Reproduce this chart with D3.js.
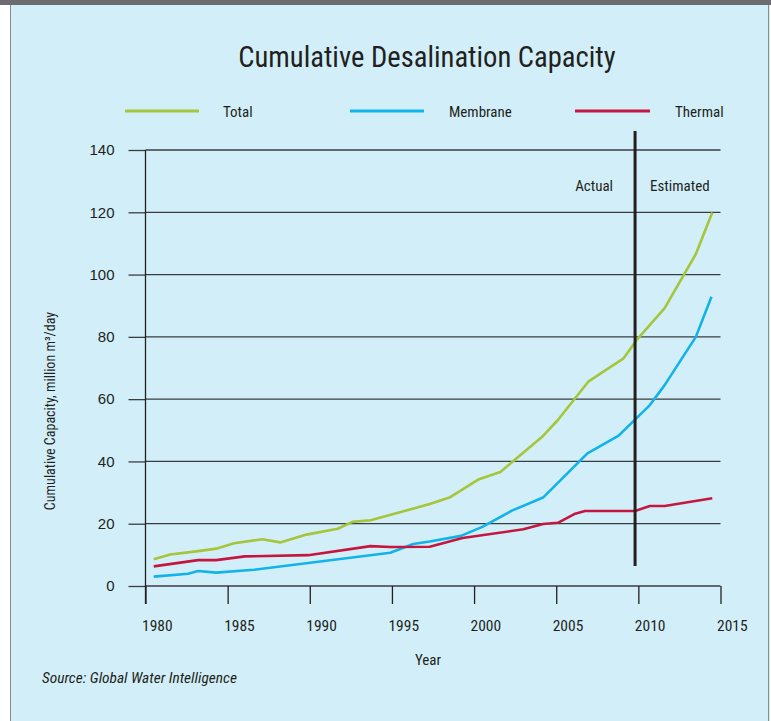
<!DOCTYPE html>
<html>
<head>
<meta charset="utf-8">
<script src="https://cdn.jsdelivr.net/npm/d3@7"></script>
<style>
  html, body { margin: 0; padding: 0; background: #ffffff; }
  svg { display: block; }
  text { font-family: "Liberation Sans Narrow", "Arial Narrow", "Roboto Condensed", "Liberation Sans", sans-serif; fill: #231f20; }
</style>
</head>
<body>
<svg id="chart" width="771" height="721"></svg>
<script>
// Cumulative desalination capacity, million m³/day
const totalYears = [1980.5, 1981.5, 1983.2, 1984.3, 1985.4, 1987.1, 1988.2, 1989.8, 1991.7, 1992.6, 1993.7,
  1997.3, 1998.5, 2000.3, 2001.6, 2004.2, 2005.1, 2006.95, 2009.1, 2009.9, 2011.6, 2013.5, 2014.5];
const totalValues = [8.6, 10.1, 11.2, 12.0, 13.7, 15.0, 14.0, 16.5, 18.4, 20.6, 21.1,
  26.3, 28.4, 34.3, 36.6, 48.2, 53.3, 65.6, 73.1, 79.0, 89.2, 106.6, 119.9];

const membraneYears = [1980.5, 1982.6, 1983.2, 1984.3, 1986.6, 1994.9, 1996.3, 1997.3, 1999.2, 2000.5,
  2002.3, 2004.2, 2006.9, 2008.8, 2010.7, 2011.6, 2013.5, 2014.45];
const membraneValues = [3.0, 3.95, 4.8, 4.3, 5.2, 10.7, 13.5, 14.3, 16.1, 19.0,
  24.2, 28.4, 42.6, 48.3, 58.1, 64.5, 80.0, 92.9];

const thermalYears = [1980.5, 1983.2, 1984.3, 1986.05, 1989.9, 1993.7, 1994.9, 1997.3, 1999.3, 2003.0,
  2004.2, 2005.1, 2006.1, 2006.75, 2009.8, 2010.7, 2011.6, 2014.5];
const thermalValues = [6.3, 8.3, 8.3, 9.5, 9.9, 12.8, 12.5, 12.6, 15.4, 18.2,
  19.9, 20.3, 23.1, 24.1, 24.1, 25.7, 25.7, 28.2];

const yTicks = [0, 20, 40, 60, 80, 100, 120, 140];
const xTicks = [1980, 1985, 1990, 1995, 2000, 2005, 2010, 2015];
const estimateStart = 2009.8;

const seriesNames = ["Total", "Membrane", "Thermal"];
const seriesColors = ["#a5c53a", "#12b2ea", "#c3173f"];

const series = [
  { name: seriesNames[0], color: seriesColors[0], pts: d3.zip(totalYears, totalValues) },
  { name: seriesNames[1], color: seriesColors[1], pts: d3.zip(membraneYears, membraneValues) },
  { name: seriesNames[2], color: seriesColors[2], pts: d3.zip(thermalYears, thermalValues) }
];

const svg = d3.select("#chart");

// panel background and frame
svg.append("rect").attr("x", 0).attr("y", 0).attr("width", 771).attr("height", 721).attr("fill", "#ffffff");
svg.append("rect").attr("x", 10).attr("y", 0).attr("width", 760).attr("height", 721).attr("fill", "#d2eff9");
svg.append("line").attr("x1", 10.5).attr("x2", 10.5).attr("y1", 0).attr("y2", 721).attr("stroke", "#8a8a8f").attr("stroke-width", 1);
svg.append("line").attr("x1", 768.5).attr("x2", 768.5).attr("y1", 0).attr("y2", 721).attr("stroke", "#8a8a8f").attr("stroke-width", 1);
svg.append("rect").attr("x", 0).attr("y", 0).attr("width", 771).attr("height", 5).attr("fill", "#6b6b70");

const x = d3.scaleLinear().domain([1980, 2015]).range([145.5, 720.5]);
const y = d3.scaleLinear().domain([0, 140]).range([586, 150]);

// title
svg.append("text").attr("x", 427).attr("y", 67).attr("text-anchor", "middle")
  .style("font-size", "28.6px").text("Cumulative Desalination Capacity");

// legend
const legendX = [[125, 199, 223], [350, 424, 449], [575, 650, 675]];
series.forEach((s, i) => {
  svg.append("line").attr("x1", legendX[i][0]).attr("x2", legendX[i][1])
    .attr("y1", 111).attr("y2", 111).attr("stroke", s.color).attr("stroke-width", 3);
  svg.append("text").attr("x", legendX[i][2]).attr("y", 117).style("font-size", "15px").text(s.name);
});

// y axis with gridlines
const yAxis = d3.axisLeft(y).tickValues(yTicks).tickSize(17).tickPadding(14);
const gy = svg.append("g").attr("transform", `translate(${x(1980)},0)`).call(yAxis);
gy.select(".domain").remove();
gy.selectAll(".tick line").attr("stroke", "#3a3d40").attr("stroke-width", 1.3);
gy.selectAll(".tick text").style("font-size", "15px").attr("fill", "#231f20")
  .style("font-family", "\"Liberation Sans Narrow\", \"Liberation Sans\", sans-serif");

const grid = svg.append("g");
grid.selectAll("line").data(yTicks).join("line")
  .attr("x1", x(1980)).attr("x2", x(2015))
  .attr("y1", d => y(d)).attr("y2", d => y(d))
  .attr("stroke", "#3a3d40").attr("stroke-width", 1.3);

// vertical axis line
svg.append("line").attr("x1", x(1980)).attr("x2", x(1980)).attr("y1", y(140)).attr("y2", 604)
  .attr("stroke", "#231f20").attr("stroke-width", 1.3);

// x axis
const xAxis = d3.axisBottom(x).tickValues(xTicks).tickFormat(d3.format("d")).tickSize(18).tickPadding(16);
const gx = svg.append("g").attr("transform", `translate(0,${y(0)})`).call(xAxis);
gx.select(".domain").remove();
gx.selectAll(".tick line").attr("stroke", "#231f20").attr("stroke-width", 1.3);
gx.selectAll(".tick text").style("font-size", "15.5px").attr("fill", "#231f20")
  .attr("text-anchor", "start").attr("dx", "-4px");

// axis titles
svg.append("text").attr("x", 428).attr("y", 665).attr("text-anchor", "middle")
  .style("font-size", "15px").text("Year");
svg.append("text").attr("transform", "translate(55,411) rotate(-90)").attr("text-anchor", "middle")
  .style("font-size", "14px").text("Cumulative Capacity, million m³/day");
svg.append("text").attr("x", 42).attr("y", 683).style("font-size", "15.4px").style("font-style", "italic")
  .text("Source: Global Water Intelligence");

// series lines
const line = d3.line().x(d => x(d[0])).y(d => y(d[1]));
svg.append("g").selectAll("path").data(series).join("path")
  .attr("d", d => line(d.pts)).attr("fill", "none")
  .attr("stroke", d => d.color).attr("stroke-width", 2.6).attr("stroke-linejoin", "round");

// actual / estimated divider
svg.append("line").attr("x1", x(estimateStart)).attr("x2", x(estimateStart))
  .attr("y1", 131).attr("y2", 566).attr("stroke", "#231f20").attr("stroke-width", 3);
svg.append("text").attr("x", x(estimateStart) - 22).attr("y", 191).attr("text-anchor", "end")
  .style("font-size", "15px").text("Actual");
svg.append("text").attr("x", x(estimateStart) + 15).attr("y", 191)
  .style("font-size", "15px").text("Estimated");
</script>
</body>
</html>
